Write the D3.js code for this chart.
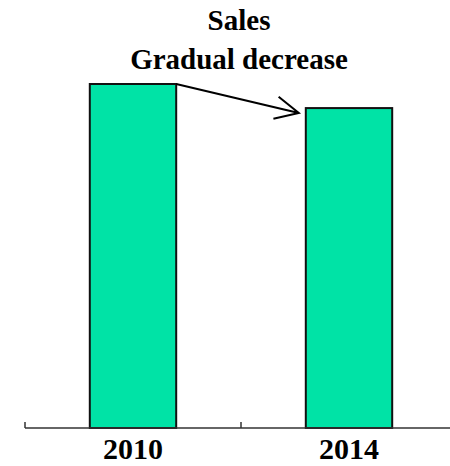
<!DOCTYPE html>
<html>
<head>
<meta charset="utf-8">
<script src="https://cdn.jsdelivr.net/npm/d3@7"></script>
<style>
  html, body { margin: 0; padding: 0; background: #fff; }
  svg { display: block; }
  text { font-family: "Liberation Serif", "Times New Roman", Times, "DejaVu Serif", serif; font-weight: bold; fill: #000; }
</style>
</head>
<body>
<svg id="chart" width="450" height="466"></svg>
<script>
// Sales by year
const years = ["2010", "2014"];
const sales = [100, 93];
const titleLines = ["Sales", "Gradual decrease"];

const svg = d3.select("#chart");
const baseY = 428;

const x = d3.scaleBand().domain(years).range([25, 457]).paddingInner(0.6).paddingOuter(0.3);
const y = d3.scaleLinear().domain([0, 100]).range([baseY, 84]);

// Bars
svg.selectAll("rect.bar")
  .data(years)
  .join("rect")
  .attr("class", "bar")
  .attr("x", d => x(d))
  .attr("y", (d, i) => y(sales[i]))
  .attr("width", x.bandwidth())
  .attr("height", (d, i) => baseY - y(sales[i]))
  .attr("fill", "#00E3A6")
  .attr("stroke", "#111")
  .attr("stroke-width", 2);

// Axis baseline and band-boundary ticks
svg.append("line")
  .attr("x1", 25).attr("x2", 450)
  .attr("y1", baseY).attr("y2", baseY)
  .attr("stroke", "#333").attr("stroke-width", 1.5);

const step = x.step();
const boundaries = [25, 25 + step, 25 + 2 * step];
svg.selectAll("line.tick")
  .data(boundaries)
  .join("line")
  .attr("class", "tick")
  .attr("x1", d => d).attr("x2", d => d)
  .attr("y1", baseY).attr("y2", baseY - 6)
  .attr("stroke", "#333").attr("stroke-width", 1.5);

// Category labels
svg.selectAll("text.cat")
  .data(years)
  .join("text")
  .attr("class", "cat")
  .attr("x", d => x(d) + x.bandwidth() / 2)
  .attr("y", 459)
  .attr("text-anchor", "middle")
  .style("font-size", "30px")
  .text(d => d);

// Title
svg.selectAll("text.title")
  .data(titleLines)
  .join("text")
  .attr("class", "title")
  .attr("x", 239)
  .attr("y", (d, i) => 30 + i * 39)
  .attr("text-anchor", "middle")
  .style("font-size", "29px")
  .text(d => d);

// Arrow from the first bar's top to the second bar
const x0 = x(years[0]) + x.bandwidth();
const y0 = y(sales[0]);
const x1 = x(years[1]) - 7;
const y1 = y(sales[1]) + 5;
const ang = Math.atan2(y1 - y0, x1 - x0);
const headLen = 26, headAng = 0.45;

svg.append("path")
  .attr("d", `M${x0},${y0}L${x1},${y1}` +
    `M${x1 - headLen * Math.cos(ang - headAng)},${y1 - headLen * Math.sin(ang - headAng)}L${x1},${y1}` +
    `L${x1 - headLen * Math.cos(ang + headAng)},${y1 - headLen * Math.sin(ang + headAng)}`)
  .attr("fill", "none")
  .attr("stroke", "#000")
  .attr("stroke-width", 2);
</script>
</body>
</html>
